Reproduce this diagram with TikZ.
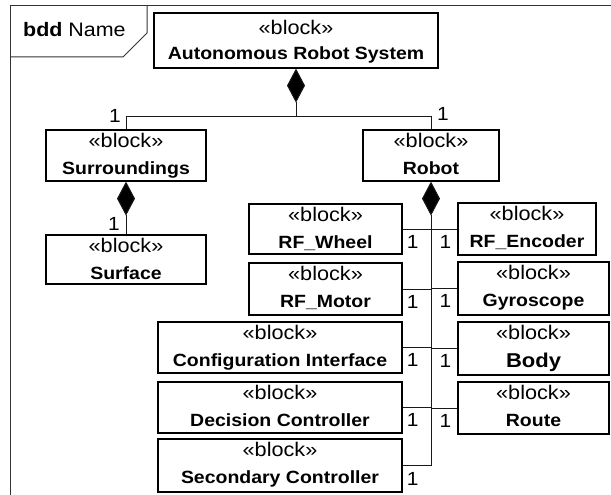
\documentclass[tikz,border=0pt]{standalone}
\usepackage{fontspec}
\setmainfont{Liberation Sans}[FakeStretch=1.1]
\usetikzlibrary{arrows.meta,fit}
\tikzset{
  blk/.style={draw=black, line width=1.2pt, inner sep=0pt, rectangle},
  ster/.style={inner sep=0pt, font=\fontsize{19.7}{20}\selectfont},
  nm/.style={inner sep=0pt, font=\fontsize{17.7}{18}\selectfont\bfseries},
  mult/.style={inner sep=0pt, font=\fontsize{19}{19}\selectfont},
  conn/.style={draw=black!90, line width=1pt},
  comp/.style={conn, {Diamond[length=34pt,width=18pt,fill=black]}-},
  frm/.style={draw=black!80, line width=1pt}
}
\newcommand\blkbox[7]{%
  \node[blk, fit={(#2,#3)(#4,#5)}] (#1) {};
  \node[ster, anchor=base] (#1s) at ([yshift=-18pt]#1.north) {«block»};
  \node[nm, anchor=base] (#1n) at ([yshift=-45pt]#1.north) {#6#7};
}
\begin{document}
\begin{tikzpicture}[x=1pt,y=-1pt]
\useasboundingbox (0,0) rectangle (611,495);
% frame
\draw[frm] (10,495) -- (10,6) -- (611,6);
\draw[frm] (10,57) -- (123,57) -- (147,33) -- (147,6);
\node[inner sep=0pt, anchor=base west, font=\fontsize{19.5}{20}\selectfont] (title) at (23,37) {\textbf{bdd} Name};
% top block
\node[blk, fit={(154,13)(438,68)}] (sys) {};
\node[ster, anchor=base] (syss) at ([yshift=-22pt]sys.north) {«block»};
\node[nm, anchor=base] (sysn) at ([yshift=-47pt]sys.north) {Autonomous Robot System};
% blocks
\blkbox{sur}{46}{130}{206}{181}{}{Surroundings}
\blkbox{rob}{363}{130}{499}{181}{}{Robot}
\blkbox{surf}{46}{235}{206}{284}{}{Surface}
\blkbox{whl}{249}{204}{402}{254}{}{RF\_Wheel}
\blkbox{mot}{249}{263}{402}{315}{}{RF\_Motor}
\blkbox{cfg}{158}{322}{402}{373}{}{Configuration Interface}
\blkbox{dec}{158}{382}{402}{433}{}{Decision Controller}
\blkbox{sec}{158}{439}{402}{492}{}{Secondary Controller}
\blkbox{enc}{458}{203}{596}{255}{}{RF\_Encoder}
\blkbox{gyr}{458}{262}{609}{315}{}{Gyroscope}
\node[blk, fit={(458,322)(609,375)}] (body) {};
\node[ster, anchor=base] (bodys) at ([yshift=-18pt]body.north) {«block»};
\node[nm, anchor=base, font=\fontsize{20}{20}\selectfont\bfseries] (bodyn) at ([yshift=-46pt]body.north) {Body};
\blkbox{route}{458}{382}{609}{434}{}{Route}
% connectors top
\coordinate (j1) at (297,117);
\draw[comp] (sys.south) -- (sys.south |- j1) -| (sur.north);
\draw[conn] (sys.south |- j1) -| (rob.north);
\node[mult, anchor=base east] (m1) at (121,122) {1};
\node[mult, anchor=base west] (m2) at (437,121) {1};
% surroundings -> surface
\draw[comp] (sur.south) -- (surf.north);
\node[mult, anchor=base east] (m3) at (120,230) {1};
% robot trunk
\draw[comp] (rob.south) -- (rob.south |- sec.east) -- (sec.east);
\foreach \b in {whl,mot,cfg,dec}{
  \draw[conn] (\b.east) -- (\b.east -| rob.south);
  \node[mult, anchor=base west] (ml\b) at ([xshift=4pt,yshift=-19pt]\b.east) {1};
}
\node[mult, anchor=base west] (mlsec) at ([xshift=4pt,yshift=-20pt]sec.east) {1};
\foreach \b in {enc,gyr,body,route}{
  \draw[conn] (\b.west) -- (\b.west -| rob.south);
  \node[mult, anchor=base east] (mr\b) at ([xshift=-6pt,yshift=-19pt]\b.west) {1};
}
\end{tikzpicture}
\end{document}
